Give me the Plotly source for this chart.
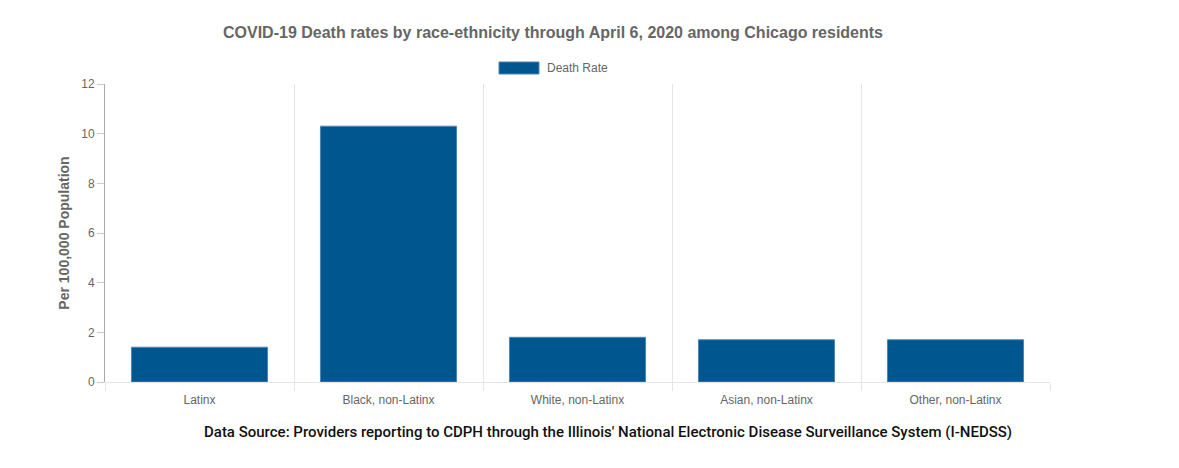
import plotly.graph_objects as go

categories = ["Latinx", "Black, non-Latinx", "White, non-Latinx", "Asian, non-Latinx", "Other, non-Latinx"]
death_rate = [1.4, 10.3, 1.8, 1.7, 1.7]
series_name = "Death Rate"
y_ticks = [0, 2, 4, 6, 8, 10, 12]

OFF = 8  # page body margin
W, H = 1179 - 2 * OFF, 468 - 2 * OFF
L, R = 105 - OFF, 1050 - OFF
T, B = 84 - OFF, 382 - OFF

def px_x(x):
    return (x - OFF - L) / (R - L)

def px_y(y):
    return (B - (y - OFF)) / (B - T)

bar_color = "#00568f"
fig = go.Figure()
fig.add_trace(go.Bar(
    x=categories, y=death_rate, name=series_name,
    marker=dict(color=bar_color, line=dict(color="#4d86b3", width=1)),
    width=0.72, showlegend=False, hoverinfo="x+y",
))

# custom legend (wide swatch like the source)
fig.add_shape(type="rect", xref="paper", yref="paper",
              x0=px_x(499), x1=px_x(539), y0=px_y(74), y1=px_y(62),
              fillcolor=bar_color, line=dict(color="#4d86b3", width=1))
fig.add_annotation(text=series_name, xref="paper", yref="paper",
                   x=px_x(545), y=px_y(68),
                   xanchor="left", yanchor="middle", showarrow=False,
                   font=dict(family="Liberation Sans, Arial", size=12, color="#666666"))

fig.add_annotation(text="Data Source: Providers reporting to CDPH through the Illinois' National Electronic Disease Surveillance System (I-NEDSS)",
                   xref="paper", yref="paper",
                   x=px_x(608), y=px_y(432),
                   xanchor="center", yanchor="middle", showarrow=False,
                   font=dict(family="Roboto", size=15, weight=500, color="#111111"))

fig.update_layout(
    width=W, height=H,
    margin=dict(l=L, r=W - R, t=T, b=H - B),
    paper_bgcolor="white", plot_bgcolor="white",
    title=dict(text="<b>COVID-19 Death rates by race-ethnicity through April 6, 2020 among Chicago residents</b>",
               x=(553 - OFF) / W, xref="container", xanchor="center",
               y=1 - (32 - OFF) / H, yref="container", yanchor="middle",
               font=dict(family="Liberation Sans, Arial", size=16, color="#666666")),
    xaxis=dict(
        type="category", range=[-0.5, len(categories) - 0.5],
        tickson="boundaries", showgrid=True, gridcolor="#e5e5e5", gridwidth=1,
        ticks="outside", ticklen=8, tickcolor="#e5e5e5",
        showline=True, linecolor="#e5e5e5", linewidth=1,
        ticklabelstandoff=7,
        tickfont=dict(family="Liberation Sans, Arial", size=12, color="#666666"),
        fixedrange=True,
    ),
    yaxis=dict(
        range=[0, 12], tickvals=y_ticks, showgrid=False, zeroline=False,
        showline=True, linecolor="#aaaaaa", linewidth=1,
        ticks="outside", ticklen=7, tickcolor="#cccccc",
        tickfont=dict(family="Liberation Sans, Arial", size=12, color="#666666"),
        title=dict(text="<b>Per 100,000 Population</b>", standoff=8,
                   font=dict(family="Liberation Sans, Arial", size=14, color="#666666")),
        fixedrange=True,
    ),
    bargap=0.28,
)

fig.write_html("out.html", config={"displayModeBar": False})
